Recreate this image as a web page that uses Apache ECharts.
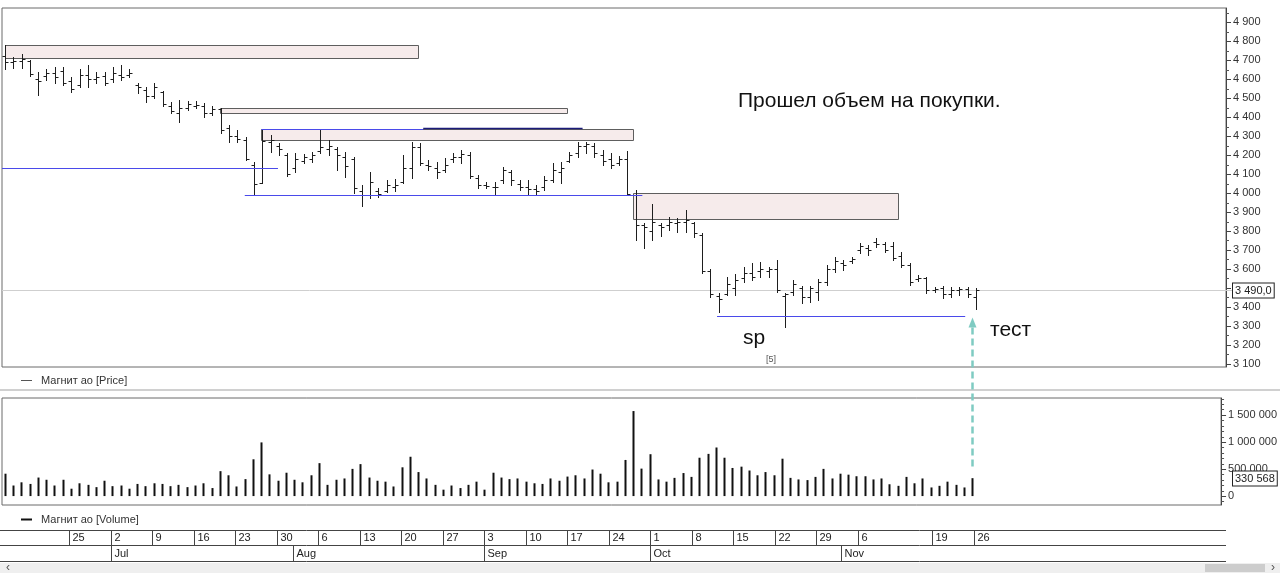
<!DOCTYPE html>
<html><head><meta charset="utf-8">
<script src="https://cdn.jsdelivr.net/npm/echarts@6/dist/echarts.min.js"></script>
<style>html,body{margin:0;padding:0;background:#fff;overflow:hidden}#c{width:1280px;height:573px}</style>
</head><body><div id="c"></div>
<script>
// ---------- DATA ----------
const dates = [
'2018-06-13','2018-06-14','2018-06-15','2018-06-18','2018-06-19','2018-06-20','2018-06-21','2018-06-22','2018-06-25','2018-06-26','2018-06-27','2018-06-28','2018-06-29',
'2018-07-02','2018-07-03','2018-07-04','2018-07-05','2018-07-06','2018-07-09','2018-07-10','2018-07-11','2018-07-12','2018-07-13','2018-07-16','2018-07-17','2018-07-18','2018-07-19','2018-07-20','2018-07-23','2018-07-24','2018-07-25','2018-07-26','2018-07-27','2018-07-30','2018-07-31',
'2018-08-01','2018-08-02','2018-08-03','2018-08-06','2018-08-07','2018-08-08','2018-08-09','2018-08-10','2018-08-13','2018-08-14','2018-08-15','2018-08-16','2018-08-17','2018-08-20','2018-08-21','2018-08-22','2018-08-23','2018-08-24','2018-08-27','2018-08-28','2018-08-29','2018-08-30','2018-08-31',
'2018-09-03','2018-09-04','2018-09-05','2018-09-06','2018-09-07','2018-09-10','2018-09-11','2018-09-12','2018-09-13','2018-09-14','2018-09-17','2018-09-18','2018-09-19','2018-09-20','2018-09-21','2018-09-24','2018-09-25','2018-09-26','2018-09-27','2018-09-28',
'2018-10-01','2018-10-02','2018-10-03','2018-10-04','2018-10-05','2018-10-08','2018-10-09','2018-10-10','2018-10-11','2018-10-12','2018-10-15','2018-10-16','2018-10-17','2018-10-18','2018-10-19','2018-10-22','2018-10-23','2018-10-24','2018-10-25','2018-10-26','2018-10-29','2018-10-30','2018-10-31',
'2018-11-01','2018-11-02','2018-11-06','2018-11-07','2018-11-08','2018-11-09','2018-11-12','2018-11-13','2018-11-14','2018-11-15','2018-11-16','2018-11-19','2018-11-20','2018-11-21','2018-11-22','2018-11-23','2018-11-26'
];
const opens = [4720,4690,4695,4695,4600,4615,4630,4640,4590,4570,4620,4600,4615,4600,4620,4620,4570,4540,4510,4530,4460,4420,4450,4460,4460,4420,4440,4340,4300,4280,4150,4055,4270,4250,4200,4130,4170,4180,4220,4230,4230,4190,4180,4010,3990,4010,4010,4030,4060,4130,4240,4150,4130,4120,4180,4190,4200,4080,4040,4030,4070,4110,4050,4030,4020,4030,4070,4110,4170,4210,4250,4250,4200,4180,4160,4180,3990,3830,3800,3830,3830,3840,3850,3840,3780,3590,3460,3470,3500,3550,3580,3590,3590,3600,3460,3480,3500,3450,3480,3530,3600,3630,3640,3700,3710,3740,3730,3720,3670,3620,3545,3550,3490,3500,3470,3490,3495,3450];
const highs = [4779,4716,4731,4700,4637,4653,4663,4663,4610,4653,4674,4637,4637,4663,4674,4653,4579,4558,4579,4537,4479,4489,4484,4484,4474,4458,4447,4358,4332,4295,4163,4337,4305,4263,4210,4210,4205,4216,4337,4279,4242,4216,4189,4042,4110,4026,4068,4074,4200,4268,4263,4174,4163,4184,4210,4226,4216,4095,4058,4058,4137,4121,4068,4068,4042,4089,4158,4163,4216,4268,4268,4263,4226,4210,4195,4221,4016,3842,3942,3842,3874,3868,3910,3847,3790,3600,3474,3558,3574,3611,3632,3637,3611,3647,3474,3542,3511,3511,3547,3621,3663,3647,3663,3737,3726,3763,3742,3742,3689,3632,3568,3558,3505,3511,3505,3505,3505,3500];
const lows = [4653,4658,4658,4616,4516,4595,4579,4568,4531,4558,4558,4579,4568,4584,4595,4610,4526,4479,4500,4458,4421,4374,4437,4447,4400,4410,4316,4268,4268,4174,3990,4053,4216,4200,4090,4110,4158,4163,4210,4200,4121,4084,4000,3932,3974,3979,4005,4010,4053,4079,4147,4121,4079,4110,4163,4158,4079,4026,4026,3990,4053,4042,4016,3990,3990,4016,4058,4053,4163,4189,4210,4189,4147,4131,4147,3990,3753,3710,3753,3774,3805,3795,3795,3768,3579,3453,3374,3463,3463,3532,3542,3558,3558,3479,3295,3463,3421,3426,3437,3516,3584,3595,3632,3684,3674,3716,3689,3647,3611,3516,3537,3474,3479,3447,3453,3463,3453,3389];
const closes = [4690,4695,4705,4625,4590,4630,4610,4580,4545,4620,4600,4610,4580,4630,4610,4630,4560,4510,4560,4470,4430,4450,4470,4465,4420,4440,4330,4300,4285,4180,4047,4275,4280,4230,4100,4180,4190,4200,4240,4250,4200,4140,4026,3990,4060,3995,4040,4040,4130,4240,4160,4140,4110,4150,4190,4205,4090,4040,4035,4030,4120,4070,4030,4020,4010,4070,4120,4130,4200,4250,4260,4210,4170,4150,4180,3995,3830,3820,3850,3820,3850,3850,3860,3790,3590,3470,3440,3520,3540,3580,3560,3600,3600,3490,3470,3520,3450,3500,3530,3600,3640,3620,3655,3720,3700,3730,3700,3660,3620,3530,3550,3490,3495,3470,3490,3495,3470,3490];
const volumes = [413000,195000,254000,224000,342000,301000,195000,301000,136000,236000,
207000,165000,283000,183000,195000,136000,224000,183000,236000,224000,
183000,207000,165000,195000,236000,148000,460000,384000,177000,313000,
679000,991000,401000,283000,431000,301000,254000,384000,608000,207000,
301000,325000,502000,590000,342000,283000,266000,177000,531000,726000,
443000,325000,207000,118000,195000,148000,207000,266000,118000,431000,
342000,313000,325000,266000,236000,224000,325000,283000,360000,384000,
325000,490000,413000,254000,266000,667000,1570000,507000,773000,307000,
266000,336000,425000,354000,708000,779000,897000,708000,519000,543000,
472000,384000,443000,384000,690000,336000,307000,295000,354000,502000,
325000,413000,395000,366000,366000,307000,325000,218000,189000,354000,
236000,325000,159000,189000,266000,207000,159000,330568];
const priceTicks = [3100,3200,3300,3400,3500,3600,3700,3800,3900,4000,4100,4200,4300,4400,4500,4600,4700,4800,4900];
const priceMinorTicks = [3150,3250,3350,3450,3550,3650,3750,3850,3950,4050,4150,4250,4350,4450,4550,4650,4750,4850,4950];
const volumeTicks = [0,500000,1000000,1500000];
const volumeMinorTicks = [-100000,100000,200000,300000,400000,600000,700000,800000,900000,1100000,1200000,1300000,1400000,1600000,1700000,1800000];
const dayTickDates = ['2018-06-25','2018-07-02','2018-07-09','2018-07-16','2018-07-23','2018-07-30','2018-08-06','2018-08-13','2018-08-20','2018-08-27','2018-09-03','2018-09-10','2018-09-17','2018-09-24','2018-10-01','2018-10-08','2018-10-15','2018-10-22','2018-10-29','2018-11-06','2018-11-19','2018-11-26'];
const dayTickLabels = ['25','2','9','16','23','30','6','13','20','27','3','10','17','24','1','8','15','22','29','6','19','26'];
const monthTickDates = ['2018-07-02','2018-08-01','2018-09-03','2018-10-01','2018-11-01'];
const monthTickLabels = ['Jul','Aug','Sep','Oct','Nov'];
const lastPrice = 3490.0;
const lastVolume = 330568;
// annotation zones (bar index range, price range)
const zoneFrom = [0, 25.9, 30.9, 75.7];
const zoneTo = [49.8, 67.7, 75.7, 107.6];
const zoneLow = [4711, 4421, 4279, 3863];
const zoneHigh = [4779, 4447, 4337, 4000];
// annotation levels (bar index range, price)
const levelFrom = [-0.35, 28.9, 30.9, 50.4, 85.8];
const levelTo = [32.9, 76.8, 50.4, 69.6, 115.7];
const levelPrice = [4131, 3990, 4337, 4342, 3350];
const levelKind = ['blue','blue','blue','navy','blue'];
const arrowIndex = 116.55, arrowTopPrice = 3345, arrowBottomVolume = 470000;

// ---------- CHART ----------
const FONT = "'Liberation Sans', Arial, sans-serif";
const fmt = v => String(Math.round(v)).replace(/\B(?=(\d{3})+(?!\d))/g, ' ');
const XMIN = -0.35, XMAX = 147.12;
const ohlcData = dates.map((d, i) => [i, opens[i], highs[i], lows[i], closes[i]]);
const volData = volumes.map((v, i) => [i, v]);
const zoneData = zoneFrom.map((f, i) => [f, zoneTo[i], zoneLow[i], zoneHigh[i]]);
const stripIdx = dayTickDates.map(d => dates.indexOf(d)).concat(monthTickDates.map(d => dates.indexOf(d)));
const stripRow = dayTickDates.map(() => 1).concat(monthTickDates.map(() => 0));
const stripText = dayTickLabels.concat(monthTickLabels);
const stripData = stripIdx.map((v, k) => [v, stripRow[k]]);

const xAx = gi => ({type:'value', gridIndex:gi, min:XMIN, max:XMAX, show:false, axisLine:{onZero:false}});
const chart = echarts.init(document.getElementById('c'), null, {renderer:'canvas'});
const mainY = (gi, min, max, ticks) => ({type:'value', gridIndex:gi, position:'right', min:min, max:max, splitLine:{show:false},
  axisLine:{show:true, onZero:false, lineStyle:{color:'#444'}},
  axisTick:{show:true, length:5, customValues:ticks, lineStyle:{color:'#444'}},
  axisLabel:{show:true, customValues:ticks, margin:7, color:'#333', fontSize:11, fontFamily:FONT, formatter:v=>fmt(v)}});
const minorTickSeries = (xi, yi, ticks) => ({
  type:'custom', xAxisIndex:xi, yAxisIndex:yi, data:ticks.map(v => [XMAX, v]), clip:false, z:6, silent:true,
  encode:{x:0, y:1},
  renderItem:(p, api) => {
    const c = api.coord([XMAX, api.value(1)]);
    const y = Math.round(c[1]) + 0.5;
    return {type:'line', shape:{x1:c[0], y1:y, x2:c[0] + 3, y2:y}, style:{stroke:'#555', lineWidth:1}};
  }
});
const option = {
  animation:false,
  backgroundColor:'#fff',
  grid:[
    {left:2, top:8, width:1224, height:359, show:true, borderColor:'#6a6a6a', borderWidth:1, backgroundColor:'#fff'},
    {left:2, top:398, width:1224, height:107, show:true, borderColor:'#6a6a6a', borderWidth:1, backgroundColor:'#fff'},
    {left:2, top:530, width:1224, height:31, show:false}
  ],
  xAxis:[xAx(0), xAx(1), xAx(2)],
  yAxis:[
    mainY(0, 3084.2, 4973.7, priceTicks),
    mainY(1, -165000, 1811000, volumeTicks),
    {type:'value', gridIndex:2, min:0, max:2, show:false}
  ],
  series:[
    { // zones
      type:'custom', xAxisIndex:0, yAxisIndex:0, data:zoneData, clip:false, z:1,
      encode:{x:[0,1], y:[2,3]},
      renderItem:(p, api) => {
        const a = api.coord([api.value(0), api.value(3)]);
        const b = api.coord([api.value(1), api.value(2)]);
        const x1 = Math.round(a[0]) + 0.5, y1 = Math.round(a[1]) + 0.5;
        const x2 = Math.round(b[0]) + 0.5, y2 = Math.round(b[1]) + 0.5;
        return {type:'rect', shape:{x:x1, y:y1, width:x2 - x1, height:y2 - y1},
          style:{fill:'#f6ebeb', stroke:'#5e5e5e', lineWidth:1}};
      }
    },
    { // placeholder (keeps series indices stable)
      type:'custom', xAxisIndex:0, yAxisIndex:0, data:[], renderItem:() => null
    },
    { // last price line
      type:'custom', xAxisIndex:0, yAxisIndex:0, data:[[0, lastPrice]], clip:false, z:2,
      encode:{y:1},
      renderItem:(p, api) => {
        const c = api.coord([XMIN, api.value(1)]);
        const y = Math.round(c[1]) + 0.5;
        return {type:'group', children:[
          {type:'line', shape:{x1:2, y1:y, x2:1232, y2:y}, style:{stroke:'#cfcfcf', lineWidth:1}},
          {type:'text', x:1233, y:y, z2:10, style:{text:lastPrice.toFixed(1).replace('.', ',').replace(/\B(?=(\d{3})+(?!\d))/g,' '),
            fill:'#222', font:'11px ' + FONT, verticalAlign:'middle', align:'left',
            backgroundColor:'#fff', borderColor:'#222', borderWidth:1, padding:[2,2,1,2]}}
        ]};
      }
    },
    { // OHLC bars
      type:'custom', name:'Магнит ао [Price]', xAxisIndex:0, yAxisIndex:0, data:ohlcData, z:5,
      encode:{x:0, y:[1,2,3,4]},
      renderItem:(p, api) => {
        const i = api.value(0);
        const o = api.coord([i, api.value(1)]);
        const h = api.coord([i, api.value(2)]);
        const l = api.coord([i, api.value(3)]);
        const c = api.coord([i, api.value(4)]);
        const x = Math.round(h[0]) + 0.5;
        const st = {stroke:'#1e1e1e', lineWidth:1};
        return {type:'group', children:[
          {type:'line', shape:{x1:x, y1:Math.round(h[1]), x2:x, y2:Math.round(l[1]) + 1}, style:st},
          {type:'line', shape:{x1:x - 3, y1:Math.round(o[1]) + 0.5, x2:x, y2:Math.round(o[1]) + 0.5}, style:st},
          {type:'line', shape:{x1:x, y1:Math.round(c[1]) + 0.5, x2:x + 3, y2:Math.round(c[1]) + 0.5}, style:st}
        ]};
      }
    },
    { // Volume bars
      type:'custom', name:'Магнит ао [Volume]', xAxisIndex:1, yAxisIndex:1, data:volData, z:5,
      encode:{x:0, y:1},
      renderItem:(p, api) => {
        const i = api.value(0);
        const t = api.coord([i, api.value(1)]);
        const b = api.coord([i, 0]);
        const x = Math.round(t[0]) + 0.5;
        return {type:'rect', shape:{x:x - 1, y:t[1], width:2, height:b[1] - t[1]}, style:{fill:'#111'}};
      }
    },
    { // last volume label
      type:'custom', xAxisIndex:1, yAxisIndex:1, data:[[0, lastVolume]], clip:false, z:6,
      encode:{y:1},
      renderItem:(p, api) => {
        const c = api.coord([XMIN, api.value(1)]);
        return {type:'text', x:1233, y:Math.round(c[1]) + 0.5, z2:10,
          style:{text:fmt(lastVolume), fill:'#222', font:'11px ' + FONT, verticalAlign:'middle', align:'left',
            backgroundColor:'#fff', borderColor:'#222', borderWidth:1, padding:[2,2,1,2]}};
      }
    },
    { // date strip
      type:'custom', xAxisIndex:2, yAxisIndex:2, data:stripData, clip:false, z:5,
      encode:{x:0, y:1},
      renderItem:(p, api) => {
        const i = api.value(0), row = api.value(1);
        const a = api.coord([i - 0.25, row + 1]);
        const b = api.coord([i - 0.25, row]);
        const x = Math.round(a[0]) + 0.5;
        return {type:'group', children:[
          {type:'line', shape:{x1:x, y1:a[1], x2:x, y2:b[1]}, style:{stroke:'#444', lineWidth:1}},
          {type:'text', x:x + 3, y:(a[1] + b[1]) / 2 + 0.5, style:{text:stripText[p.dataIndex], fill:'#222', font:'11px ' + FONT, verticalAlign:'middle', align:'left'}}
        ]};
      }
    },
    minorTickSeries(0, 0, priceMinorTicks),
    minorTickSeries(1, 1, volumeMinorTicks)
  ]
};
chart.setOption(option);

// levels and arrow placed through the chart's own scales
const toPrice = (ix, v) => chart.convertToPixel({seriesIndex:3}, [ix, v]);
const toVol = (ix, v) => chart.convertToPixel({seriesIndex:4}, [ix, v]);
const levelGraphics = levelFrom.map((f, k) => {
  const a = toPrice(f, levelPrice[k]);
  const b = toPrice(levelTo[k], levelPrice[k]);
  const navy = levelKind[k] === 'navy';
  const y = Math.round(a[1]) + 0.5;
  return {type:'line', z:30, shape:{x1:a[0], y1:y, x2:b[0], y2:y},
    style:{stroke: navy ? '#1c1c7a' : '#4a4aea', lineWidth: navy ? 1.6 : 1}};
});
const arrowTop = toPrice(arrowIndex, arrowTopPrice);
const arrowBot = toVol(arrowIndex, arrowBottomVolume);
const ax = Math.round(arrowTop[0]) + 0.5;
const g = levelGraphics.concat([
  {type:'rect', shape:{x:0, y:389, width:1280, height:2}, style:{fill:'#d0d0d0'}},
  {type:'line', shape:{x1:0, y1:530.5, x2:1226, y2:530.5}, style:{stroke:'#444', lineWidth:1}},
  {type:'line', shape:{x1:0, y1:545.5, x2:1226, y2:545.5}, style:{stroke:'#444', lineWidth:1}},
  {type:'line', shape:{x1:0, y1:561.5, x2:1226, y2:561.5}, style:{stroke:'#444', lineWidth:1}},
  {type:'rect', shape:{x:0, y:563, width:1280, height:10}, style:{fill:'#efefef'}},
  {type:'rect', shape:{x:1205, y:564, width:60, height:8}, style:{fill:'#cdcdcd'}},
  {type:'text', x:6, y:568, style:{text:'‹', fill:'#555', font:'12px ' + FONT, verticalAlign:'middle'}},
  {type:'text', x:1271, y:568, style:{text:'›', fill:'#555', font:'12px ' + FONT, verticalAlign:'middle'}},
  {type:'line', shape:{x1:21, y1:380.5, x2:32, y2:380.5}, style:{stroke:'#555', lineWidth:1}},
  {type:'text', x:41, y:380.5, style:{text:'Магнит ао [Price]', fill:'#333', font:'11px ' + FONT, verticalAlign:'middle'}},
  {type:'line', shape:{x1:21, y1:519.5, x2:32, y2:519.5}, style:{stroke:'#111', lineWidth:2}},
  {type:'text', x:41, y:519.5, style:{text:'Магнит ао [Volume]', fill:'#333', font:'11px ' + FONT, verticalAlign:'middle'}},
  {type:'text', x:738, y:101, style:{text:'Прошел объем на покупки.', fill:'#111', font:'21px ' + FONT, verticalAlign:'middle'}},
  {type:'text', x:743, y:338, style:{text:'sp', fill:'#111', font:'21px ' + FONT, verticalAlign:'middle'}},
  {type:'text', x:990, y:330, style:{text:'тест', fill:'#111', font:'21px ' + FONT, verticalAlign:'middle'}},
  {type:'text', x:766, y:360, style:{text:'[5]', fill:'#555', font:'9px ' + FONT, verticalAlign:'middle'}},
  {type:'line', shape:{x1:ax, y1:arrowTop[1] + 10, x2:ax, y2:arrowBot[1]}, style:{stroke:'#7fcbc2', lineWidth:2.5, lineDash:[7,4]}, z:20},
  {type:'polygon', shape:{points:[[ax, arrowTop[1]], [ax - 4, arrowTop[1] + 10], [ax + 4, arrowTop[1] + 10]]}, style:{fill:'#7fcbc2'}, z:20}
]);
chart.setOption({graphic:g});
</script></body></html>
